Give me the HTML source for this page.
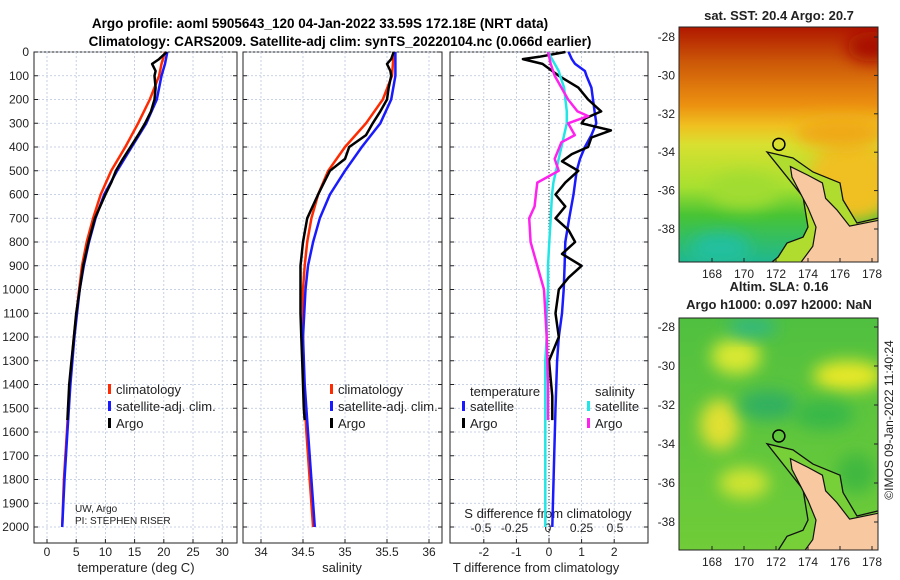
<!DOCTYPE html>
<html><head><meta charset="utf-8"><style>
body{margin:0;background:#fff;}
svg{display:block;font-family:"Liberation Sans","DejaVu Sans",sans-serif;}
</style></head><body>
<svg id="fig" width="900" height="580" viewBox="0 0 900 580">
<defs>
<filter id="blur" x="-50%" y="-50%" width="200%" height="200%"><feGaussianBlur stdDeviation="8"/></filter>
<clipPath id="clip2"><rect x="679" y="318" width="199" height="232"/></clipPath>
<clipPath id="clip1"><rect x="679" y="27" width="199" height="235"/></clipPath>
</defs>
<text x="320" y="28" font-size="13.5" font-weight="bold" text-anchor="middle">Argo profile: aoml 5905643_120 04-Jan-2022 33.59S 172.18E (NRT data)</text>
<text x="340" y="46" font-size="13.5" font-weight="bold" text-anchor="middle">Climatology: CARS2009. Satellite-adj clim: synTS_20220104.nc (0.066d earlier)</text>
<g id="p1"></g>
<g id="p2"></g>
<g id="p3"></g>
<g id="maps"></g>
<text transform="translate(893,420) rotate(-90)" font-size="12" text-anchor="middle" fill="#222">©IMOS 09-Jan-2022 11:40:24</text>
</svg>
<script>
const depthTicks=[0,100,200,300,400,500,600,700,800,900,1000,1100,1200,1300,1400,1500,1600,1700,1800,1900,2000];
const tTicks=[0,5,10,15,20,25,30];
const sTicks=[34,34.5,35,35.5,36];
const sTickLabels=["34","34.5","35","35.5","36"];
const dTTicks=[-2,-1,0,1,2];
const dSTicks=[-0.5,-0.25,0,0.25,0.5];
const dSTickLabels=["-0.5","-0.25","0","0.25","0.5"];
// temperature profiles
const tClimDepth=[0,50,100,200,300,400,500,600,700,800,900,1000,1200,1400,1600,1800,2000];
const tClim=[20.2,19.6,19.2,17.6,15.6,13.4,11.0,9.2,7.9,6.8,6.0,5.5,4.6,3.9,3.4,2.9,2.6];
const tSat=[20.6,20.2,19.6,18.8,17.0,14.5,12.0,9.8,8.3,7.2,6.3,5.6,4.7,4.0,3.5,3.0,2.6];
const tArgoDepth=[0,30,50,80,100,150,200,250,300,350,400,450,500,550,600,700,800,900,1000,1100,1200,1300,1400,1500,1550];
const tArgo=[20.5,19.2,18.0,18.6,18.4,18.6,18.4,17.8,16.8,15.6,14.3,13.0,11.8,11.0,10.0,8.2,7.1,6.2,5.6,5.0,4.6,4.2,3.8,3.6,3.5];
// salinity profiles
const sClim=[35.58,35.57,35.56,35.45,35.25,35.0,34.8,34.68,34.6,34.55,34.52,34.5,34.5,34.51,34.54,34.58,34.62];
const sSat=[35.6,35.6,35.6,35.55,35.42,35.2,35.0,34.82,34.7,34.62,34.56,34.53,34.5,34.52,34.56,34.6,34.64];
const sArgo=[35.58,35.55,35.5,35.54,35.55,35.52,35.5,35.42,35.33,35.25,35.05,35.0,34.82,34.75,34.68,34.55,34.5,34.47,34.47,34.47,34.48,34.49,34.5,34.51,34.52];
// difference profiles
const dTSat=[0.6,0.7,0.8,1.1,1.15,1.3,1.35,1.4,1.45,1.3,1.1,0.95,0.85,0.8,0.75,0.62,0.5,0.48,0.45,0.4,0.3,0.25,0.2,0.16,0.1];
const dSSat=[0.0,0.03,0.05,0.08,0.09,0.12,0.13,0.14,0.14,0.12,0.1,0.08,0.06,0.04,0.03,0.02,0.01,0.0,0.0,-0.01,-0.01,-0.02,-0.02,-0.02,-0.02];
const dDepth=[0,30,50,80,100,150,200,250,300,350,400,450,500,550,600,700,800,900,1000,1100,1200,1300,1500,1700,2000];
const dTArgoDepth=[0,20,30,50,100,150,200,250,280,300,330,360,400,430,460,500,550,600,650,700,750,800,850,900,950,1000,1100,1200,1300,1450,1550];
const dTArgo=[0.5,-0.3,-0.8,-0.2,0.3,0.9,1.2,1.6,1.1,1.0,1.9,1.3,1.2,0.7,0.4,0.9,0.5,0.2,0.5,0.2,0.6,0.8,0.4,1.0,0.6,0.3,0.2,0.3,0.0,0.1,0.1];
const dSArgoDepth=[0,50,100,150,200,250,270,300,350,380,450,500,550,600,650,700,800,900,1000,1200,1400,1550];
const dSArgo=[0.0,0.02,0.05,0.1,0.15,0.22,0.3,0.15,0.2,0.1,0.05,0.08,-0.08,-0.09,-0.1,-0.14,-0.13,-0.08,-0.03,-0.01,0.0,0.0];

const NS='http://www.w3.org/2000/svg';
function mk(tag,attrs,parent,txt){const e=document.createElementNS(NS,tag);for(const k in attrs)e.setAttribute(k,attrs[k]);if(txt!==undefined)e.textContent=txt;parent.appendChild(e);return e;}
const yTop=52,yBot=543;
function yD(d){return 52+d*0.2375;}
function panel(g,x0,x1,xs,ticks,labels,showY){
  const r=mk('rect',{x:x0,y:yTop,width:x1-x0,height:yBot-yTop,fill:'#fff',stroke:'#222','stroke-width':1},g);
  
  
  depthTicks.forEach(d=>{const y=yD(d);
    const l=mk('line',{x1:x0,x2:x1,y1:y,y2:y,stroke:'#b8c4dc','stroke-dasharray':'2,2','stroke-width':0.8},g);
    
    
    mk('line',{x1:x0,x2:x0+4,y1:y,y2:y,stroke:'#222'},g);mk('line',{x1:x1-4,x2:x1,y1:y,y2:y,stroke:'#222'},g);
    if(showY){const t=mk('text',{x:x0-5,y:y+4,'font-size':12,'text-anchor':'end',fill:'#222'},g,String(d));
      
      }
  });
  ticks.forEach((v,i)=>{const x=xs(v);
    const l=mk('line',{x1:x,x2:x,y1:yTop,y2:yBot,stroke:'#b8c4dc','stroke-dasharray':'2,2','stroke-width':0.8},g);
    
    
    mk('line',{x1:x,x2:x,y1:yBot-4,y2:yBot,stroke:'#222'},g);
    if(labels){const t=mk('text',{x:x,y:556,'font-size':12,'text-anchor':'middle',fill:'#222'},g,labels[i]);
      
      }
  });
}
function line(g,depths,vals,xs,color,name,w){
  const pts=depths.slice(0,vals.length).map((d,i)=>xs(vals[i]).toFixed(1)+','+yD(d).toFixed(1)).join(' ');
  const p=mk('polyline',{points:pts,fill:'none',stroke:color,'stroke-width':w||2.5,'stroke-linejoin':'round'},g);
  
  
}
function legend(g,x,y,items){items.forEach((it,i)=>{const yy=y+i*17;
  mk('rect',{x:x,y:yy-8,width:3,height:10,fill:it[1]},g);
  const t=mk('text',{x:x+8,y:yy+2,'font-size':13,fill:'#222'},g,it[0]);
  
  });}
function label(g,x,y,s,name,size){const t=mk('text',{x:x,y:y,'font-size':size||13,'text-anchor':'middle',fill:'#222'},g,s);
  
  
  return t;}

// Panel 1
const p1=document.getElementById('p1');
const xT=v=>47+v*5.84;
panel(p1,34,237,xT,tTicks,tTicks.map(String),true);
line(p1,tClimDepth,tClim,xT,'#ff2a00','climatology-line');
line(p1,tClimDepth,tSat,xT,'#1a1aff','satellite-adj-line');
line(p1,tArgoDepth,tArgo,xT,'#000','argo-line');
legend(p1,108,392,[['climatology','#ff2a00'],['satellite-adj. clim.','#1a1aff'],['Argo','#000']]);
mk('text',{x:75,y:512,'font-size':10,fill:'#222'},p1,'UW, Argo');
mk('text',{x:75,y:524,'font-size':10,fill:'#222'},p1,'PI: STEPHEN RISER');
label(p1,136,572,'temperature (deg C)','x-axis-title');
// Panel 2
const p2=document.getElementById('p2');
const xS=v=>261+(v-34)*84;
panel(p2,243,442,xS,sTicks,sTickLabels,false);
line(p2,tClimDepth,sClim,xS,'#ff2a00','climatology-salinity-line');
line(p2,tClimDepth,sSat,xS,'#1a1aff','satellite-adj-salinity-line');
line(p2,tArgoDepth,sArgo,xS,'#000','argo-salinity-line');
legend(p2,330,392,[['climatology','#ff2a00'],['satellite-adj. clim.','#1a1aff'],['Argo','#000']]);
label(p2,342,572,'salinity','x-axis-title');
// Panel 3
const p3=document.getElementById('p3');
const xDT=v=>549+v*32.6;
const xDS=v=>548+v*134;
panel(p3,450,648,xDT,dTTicks,dTTicks.map(String),false);
mk('line',{x1:549,x2:549,y1:yTop,y2:yBot,stroke:'#333','stroke-dasharray':'1,2'},p3);
dSTicks.forEach((v,i)=>{const t=mk('text',{x:xDS(v),y:532,'font-size':12,'text-anchor':'middle',fill:'#222'},p3,dSTickLabels[i]);
  
  });
label(p3,548,518,'S difference from climatology','s-axis-title');
line(p3,dDepth,dTSat,xDT,'#1a1aff','t-diff-satellite-line');
line(p3,dTArgoDepth,dTArgo,xDT,'#000','t-diff-argo-line');
line(p3,dDepth,dSSat,xDS,'#22e6e6','s-diff-satellite-line');
line(p3,dSArgoDepth,dSArgo,xDS,'#ff22ee','s-diff-argo-line');
mk('text',{x:470,y:396,'font-size':13,fill:'#222'},p3,'temperature');
mk('text',{x:595,y:396,'font-size':13,fill:'#222'},p3,'salinity');
legend(p3,462,409,[['satellite','#1a1aff'],['Argo','#000']]);
legend(p3,587,409,[['satellite','#22e6e6'],['Argo','#ff22ee']]);
label(p3,536,572,'T difference from climatology','x-axis-title');

// Maps
const maps=document.getElementById('maps');
const lonTicks=[168,170,172,174,176,178];
const latTicks=[-28,-30,-32,-34,-36,-38];
const landLonLat=[[172.9,-34.75],[174.0,-35.2],[174.9,-35.6],[175.1,-36.4],[175.8,-37.0],[176.6,-37.85],[178.4,-37.55],[178.4,-39.8],[173.5,-39.8],[174.3,-38.9],[174.5,-37.9],[174.0,-36.9],[173.5,-36.1],[173.0,-35.3]];
const shelfLonLat=[[171.44,-33.99],[173.06,-34.3],[174.31,-35.03],[176.0,-35.6],[176.19,-36.49],[177.06,-37.69],[178.4,-37.43],[178.4,-39.8],[171.63,-39.8],[172.13,-39.46],[172.69,-38.73],[173.69,-38.42],[174.0,-37.9],[173.69,-36.33],[172.69,-35.29]];
function map(x0,y0,h,y28,y38,titleY,title,title2,bg,id,blobs,clip,shelfColor){
  const defs=mk('defs',{},maps);
  const gr=mk('linearGradient',{id:id,x1:0,y1:0,x2:0,y2:1},defs);
  bg.forEach(s=>mk('stop',{offset:s[0],'stop-color':s[1]},gr));
  const w=199;
  const r=mk('rect',{x:x0,y:y0,width:w,height:h,fill:'url(#'+id+')'},maps);
  
  
  const lx=v=>712+(v-168)*16, ly=v=>y28+(-28-v)*(y38-y28)/10;
  const g2=mk('g',{'clip-path':'url(#'+clip+')'},maps);
  blobs.forEach(b=>mk('ellipse',{cx:lx(b[0]),cy:ly(b[1]),rx:b[2],ry:b[3],fill:b[4],filter:'url(#blur)'},g2));
  const sp=mk('polygon',{points:shelfLonLat.map(p=>lx(p[0])+','+ly(p[1])).join(' '),fill:shelfColor,stroke:'#111','stroke-width':1.3},g2);
  
  
  const lp=mk('polygon',{points:landLonLat.map(p=>lx(p[0])+','+ly(p[1])).join(' '),fill:'#f8c8a0',stroke:'#111','stroke-width':1.2},g2);
  
  
  const c=mk('circle',{cx:lx(172.18),cy:ly(-33.59),r:6,fill:'none',stroke:'#000','stroke-width':1.5},maps);
  
  
  mk('rect',{x:x0,y:y0,width:w,height:h,fill:'none',stroke:'#222'},maps);
  lonTicks.forEach(v=>{mk('line',{x1:lx(v),x2:lx(v),y1:y0+h-4,y2:y0+h,stroke:'#222'},maps);
    const t=mk('text',{x:lx(v),y:y0+h+16,'font-size':12,'text-anchor':'middle',fill:'#222'},maps,String(v));
    
    });
  latTicks.forEach(v=>{mk('line',{x1:x0+w-4,x2:x0+w,y1:ly(v),y2:ly(v),stroke:'#222'},maps);
    const t=mk('text',{x:x0-4,y:ly(v)+4,'font-size':12,'text-anchor':'end',fill:'#222'},maps,String(v));
    
    });
  label(maps,779,title2?titleY-18:titleY,title,'map-title',13).setAttribute('font-weight','bold');
  if(title2)label(maps,779,titleY,title2,'map-title',13).setAttribute('font-weight','bold');
}
map(679,27,235,37,229,20,'sat. SST: 20.4 Argo: 20.7',null,
  [[0,'#b01800'],[0.15,'#cc5808'],[0.33,'#ec9010'],[0.42,'#f0c020'],[0.5,'#d8e030'],[0.68,'#a8e030'],[0.8,'#48c434'],[1,'#20b890']],'g1',
  [[176.8,-35.5,45,40,'#f0c020'],[176,-33,45,15,'#f0a818'],[170,-36,35,18,'#a0dc30'],[168.5,-39,30,15,'#20c0a0'],[178,-28.5,25,15,'#a80800']],'clip1','#b0dc30');
map(679,318,232,327,522,309,'Altim. SLA: 0.16','Argo h1000: 0.097 h2000: NaN',
  [[0,'#50c040'],[1,'#70cc38']],'g2',
  [[169.5,-29.5,25,18,'#d8e830'],[168.5,-33,20,25,'#e0e030'],[170,-36,25,15,'#d0e430'],[176.5,-30.5,35,15,'#e8e828'],[171.5,-32,30,15,'#30b060'],[175,-32.5,30,15,'#38b848'],[170.5,-28,25,10,'#30b880'],[177,-35.5,20,20,'#40b840']],'clip2','#78d038');
</script>
</body></html>
